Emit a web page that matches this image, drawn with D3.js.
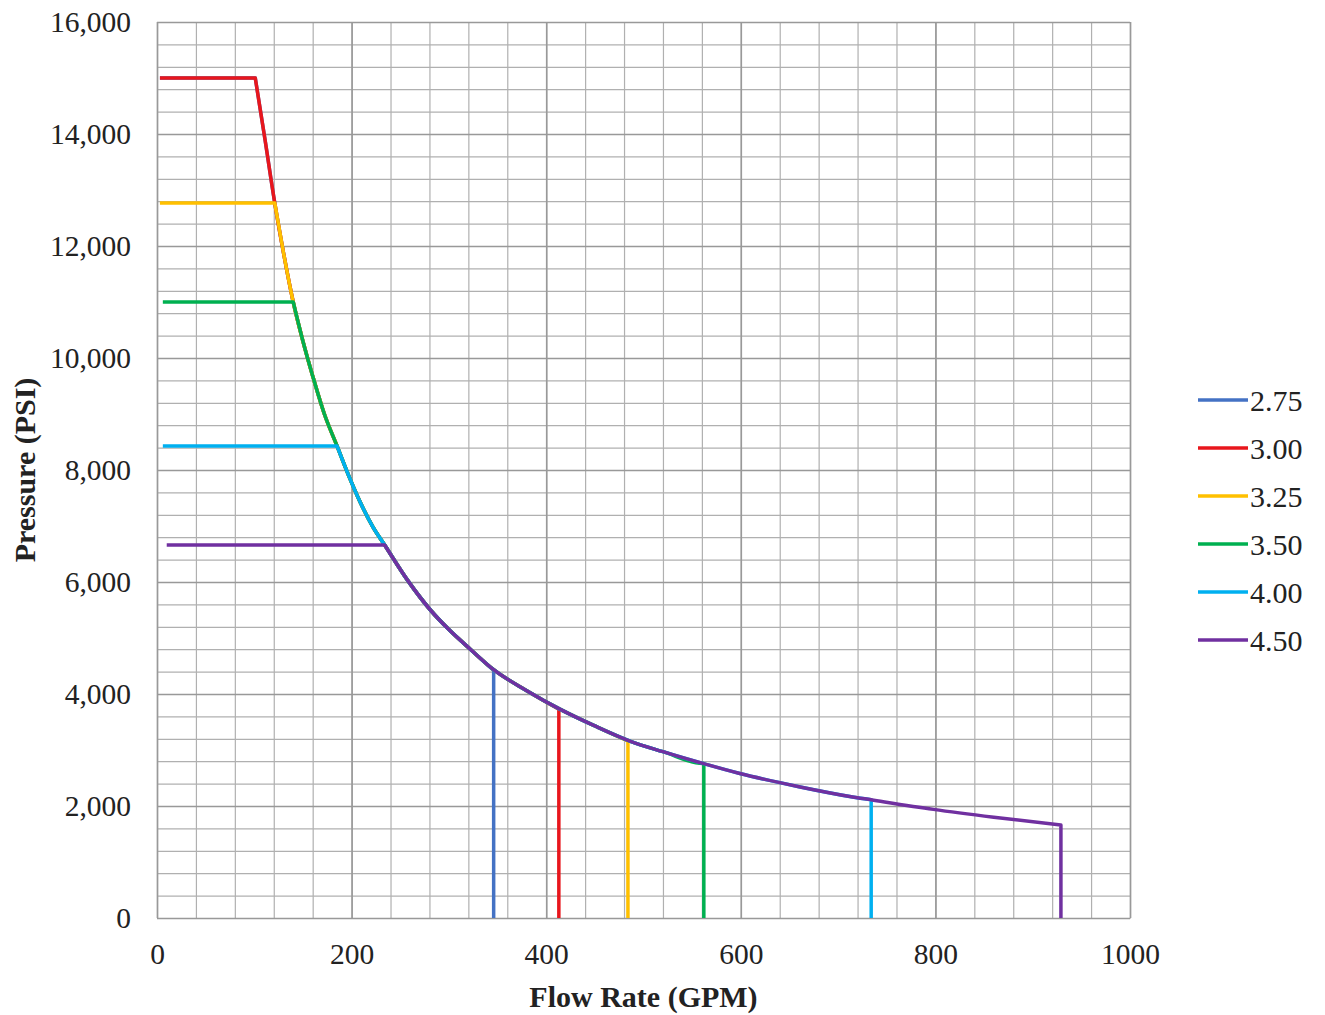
<!DOCTYPE html>
<html>
<head>
<meta charset="utf-8">
<script src="https://cdn.jsdelivr.net/npm/d3@7"></script>
<style>
  body { margin: 0; background: #fff; }
  text { font-family: "Liberation Serif", "Times New Roman", serif; fill: #222; }
</style>
</head>
<body>
<div id="chart"></div>
<script>
// plunger sizes and their limits
var plungers = ["2.75", "3.00", "3.25", "3.50", "4.00", "4.50"];
var colors = ["#4472C4", "#E8161C", "#FFC000", "#00B050", "#00B0F0", "#7030A0"];
var maxPressure = [15000, 15000, 12770, 11000, 8430, 6660];
var startRate = [3, 3, 3, 6, 6, 10];
var maxRate = [346, 413, 484, 562, 734, 929];
var topPressure = [4420, 3730, 3160, 2760, 2110, 1660];

// horsepower curve (GPM, PSI)
var envelope = [
  [101, 15000], [111, 13900], [121, 12770], [130, 11880], [140, 11000],
  [150, 10300], [160, 9680], [172, 9000], [185, 8430], [197, 7900],
  [209, 7420], [222, 6980], [234, 6660], [258, 6020], [281, 5500],
  [300, 5150], [322, 4800], [347, 4420], [380, 4060], [414, 3730],
  [450, 3430], [486, 3160], [520, 2970], [561, 2760], [599, 2580],
  [661, 2340], [712, 2170], [734, 2110], [798, 1940], [860, 1800],
  [929, 1660]
];

var xTicks = [0, 200, 400, 600, 800, 1000];
var yTicks = [0, 2000, 4000, 6000, 8000, 10000, 12000, 14000, 16000];

var margin = {top: 22, right: 195, bottom: 97, left: 157},
    width = 1325 - margin.left - margin.right,
    height = 1015 - margin.top - margin.bottom;

var svg = d3.select("#chart")
  .append("svg")
    .attr("width", 1325)
    .attr("height", 1015)
  .append("g")
    .attr("transform", "translate(" + margin.left + "," + margin.top + ")");

var x = d3.scaleLinear().domain([0, 1000]).range([0, width]);
var y = d3.scaleLinear().domain([0, 16000]).range([height, 0]);

// minor grid: every 40 GPM and every 400 PSI
svg.append("g")
  .call(d3.axisBottom(x).tickValues(d3.range(0, 1001, 40)).tickSize(-height).tickFormat(""))
  .attr("transform", "translate(0," + height + ")")
  .call(function(g) { g.select(".domain").remove(); })
  .selectAll("line").attr("stroke", "#b0b0b0").attr("stroke-width", 1.2);

svg.append("g")
  .call(d3.axisLeft(y).tickValues(d3.range(0, 16001, 400)).tickSize(-width).tickFormat(""))
  .call(function(g) { g.select(".domain").remove(); })
  .selectAll("line").attr("stroke", "#b0b0b0").attr("stroke-width", 1.2);

// major grid
svg.append("g")
  .call(d3.axisBottom(x).tickValues(xTicks).tickSize(-height).tickFormat(""))
  .attr("transform", "translate(0," + height + ")")
  .call(function(g) { g.select(".domain").remove(); })
  .selectAll("line").attr("stroke", "#999").attr("stroke-width", 1.6);

svg.append("g")
  .call(d3.axisLeft(y).tickValues(yTicks).tickSize(-width).tickFormat(""))
  .call(function(g) { g.select(".domain").remove(); })
  .selectAll("line").attr("stroke", "#999").attr("stroke-width", 1.6);

// tick labels
var xAxis = svg.append("g")
  .attr("transform", "translate(0," + height + ")")
  .call(d3.axisBottom(x).tickValues(xTicks).tickSize(0).tickPadding(25).tickFormat(d3.format("d")));
xAxis.select(".domain").attr("stroke", "#999");
xAxis.selectAll("text").attr("font-size", "29.5px").style("font-family", "Liberation Serif").attr("fill", "#222");

var yAxis = svg.append("g")
  .call(d3.axisLeft(y).tickValues(yTicks).tickSize(0).tickPadding(26).tickFormat(d3.format(",")));
yAxis.select(".domain").attr("stroke", "#999");
yAxis.selectAll("text").attr("font-size", "29.5px").style("font-family", "Liberation Serif").attr("fill", "#222");

// axis titles
svg.append("text")
  .attr("x", width / 2)
  .attr("y", height + 89)
  .attr("font-size", "30px")
  .attr("font-weight", "bold")
  .style("text-anchor", "middle")
  .text("Flow Rate (GPM)");

svg.append("text")
  .attr("transform", "rotate(-90)")
  .attr("x", -(height / 2))
  .attr("y", -122)
  .attr("font-size", "30px")
  .attr("font-weight", "bold")
  .style("text-anchor", "middle")
  .text("Pressure (PSI)");

// each plunger: flat at rated pressure to the knee, along the curve, then drop to 0
var series = plungers.map(function(p, i) {
  var pts = envelope.filter(function(d) {
    return d[1] <= maxPressure[i] && d[0] < maxRate[i];
  });
  pts.push([maxRate[i], topPressure[i]]);
  return {name: p, color: colors[i], start: [startRate[i], maxPressure[i]],
          values: pts, end: maxRate[i]};
});

var curve = d3.line()
  .curve(d3.curveMonotoneX)
  .x(function(d) { return x(d[0]); })
  .y(function(d) { return y(d[1]); });

svg.selectAll(".plunger")
  .data(series)
  .enter()
  .append("path")
    .attr("class", "plunger")
    .attr("d", function(d) {
      var c = curve(d.values);
      return "M" + x(d.start[0]) + "," + y(d.start[1]) + "L" + c.slice(1) +
             "L" + x(d.end) + "," + y(0);
    })
    .attr("fill", "none")
    .attr("stroke", function(d) { return d.color; })
    .attr("stroke-width", 3.5)
    .attr("stroke-linejoin", "round");

// legend
var legend = svg.selectAll(".legend")
  .data(series)
  .enter()
  .append("g")
    .attr("class", "legend")
    .attr("transform", function(d, i) { return "translate(" + (1198 - margin.left) + "," + (400 - margin.top + i * 48) + ")"; });

legend.append("line")
  .attr("x1", 0).attr("x2", 50)
  .attr("stroke", function(d) { return d.color; })
  .attr("stroke-width", 3.5);

legend.append("text")
  .attr("x", 52)
  .attr("dy", "0.35em")
  .attr("font-size", "30px")
  .text(function(d) { return d.name; });
</script>
</body>
</html>
